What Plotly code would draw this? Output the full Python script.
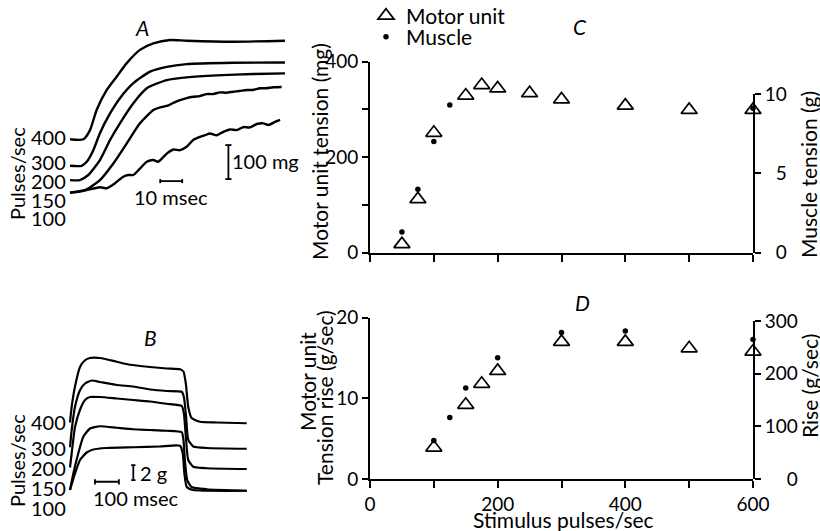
import plotly.graph_objects as go

W, H = 820, 531
FONT = "Lato, 'Open Sans', sans-serif"
FS = 21      # titles / legend
TFS = 19     # tick labels
FSP = 20     # trace labels

# ---------------- Panel C : tension vs stimulus rate ----------------
c_rate_unit = [50, 75, 100, 150, 175, 200, 250, 300, 400, 500, 600]
c_tension_unit_mg = [18, 112, 251, 329, 351, 344, 334, 321, 308, 299, 299]
c_rate_muscle = [50, 75, 100, 125, 150, 200, 300, 400, 600]
c_tension_muscle_g = [1.3, 4.0, 7.0, 9.3, 11.0, 11.35, 11.0, 10.45, 9.1]

# ---------------- Panel D : rate of tension rise ----------------
d_rate_unit = [100, 150, 175, 200, 300, 400, 500, 600]
d_rise_unit = [3.9, 9.2, 11.8, 13.4, 17.0, 17.0, 16.2, 15.8]
d_rate_muscle = [100, 125, 150, 200, 300, 400, 600]
d_rise_muscle = [73, 117, 173, 230, 278, 281, 265]

x_ticks = [0, 100, 200, 300, 400, 500, 600]
x_ticktext = ["0", "", "200", "", "400", "", "600"]
c_left_ticks = [0, 100, 200, 300, 400]
c_left_text = ["0", "", "200", "", "400"]
c_right_ticks = [0, 5, 10]
c_right_text = ["\u20070", "\u20075", "10"]
d_left_ticks = [0, 10, 20]
d_right_ticks = [0, 100, 200, 300]
d_right_text = ["\u2007\u20070", "100", "200", "300"]

# ---------------- Panel A : motor unit traces (ms, mg, offset as drawn) ----------------
A_labels = ["400", "300", "200", "150", "100"]
A_t = [
    [0, 6.1, 9.1, 12.1, 16.7, 21.2, 25.8, 31.8, 37.9, 45.5, 53, 74, 97.7],
    [0, 5.3, 7.6, 10.6, 13.6, 18.2, 22.7, 28.8, 36.4, 44, 53, 74.2, 97.7],
    [0, 4.5, 8.3, 13.6, 18.2, 22.7, 28.8, 34.9, 44, 53, 66.7, 83.3, 97.7],
    [0, 7.6, 13.6, 19.7, 25.8, 31.8, 37.9, 41.0, 44, 47, 50, 53, 56, 59, 62.1, 65, 68.2, 71, 74.2, 77, 80.3, 83, 86.4, 89, 92.4, 96.2],
    [0, 4.5, 13.6, 16.7, 20.5, 24.2, 26.5, 28.8, 31.8, 34.9, 37.9, 40.1, 44, 47, 50, 53, 56, 59.1, 61.4,
     63.6, 66.7, 69.7, 72.7, 75.8, 78.8, 81.8, 84.9, 87.9, 90.2, 93.2, 95.5],
]
A_mg = [
    [155, 155, 182, 241, 300, 339, 379, 418, 437, 447, 445, 442, 445],
    [77, 77, 89, 123, 173, 231, 276, 320, 354, 368, 376, 380, 381],
    [35, 35, 50, 94, 153, 202, 261, 305, 329, 337, 343, 347, 349],
    [-2, 8, 35, 84, 143, 202, 241, 249, 253, 262, 270, 276, 280, 282, 288, 288, 293, 292, 295, 297, 300, 300, 305, 305, 308, 309],
    [-2, 1, 14, 11, 26, 45, 50, 50, 69, 89, 94, 89, 113, 125, 123, 133, 153, 162, 167,
     172, 167, 177, 184, 182, 191, 190, 200, 202, 197, 206, 212],
]
A_bar_ms = 10
A_bar_mg = 100

# ---------------- Panel B : whole muscle traces (ms, g, offset as drawn) ----------------
B_labels = ["400", "300", "200", "150", "100"]
B_t = [
    [0, 7, 20.9, 41.7, 62.6, 83.4, 125, 195, 250, 334, 403, 459, 473, 483, 493, 507, 542, 612, 737],
    [0, 7, 20.9, 41.7, 62.6, 90.4, 125, 195, 264, 334, 403, 466, 475, 484, 493, 514, 570, 737],
    [0, 7, 20.9, 41.7, 62.6, 83.4, 125, 195, 264, 334, 403, 466, 475, 484, 493, 514, 570, 737],
    [0, 13.9, 34.6, 55.4, 83.4, 125, 195, 264, 334, 403, 466, 473, 480, 489, 507, 570, 737],
    [0, 20.9, 41.7, 69.5, 97.2, 153, 264, 375, 459, 470, 477, 487, 514, 737],
]
B_g = [
    [9.0, 11.1, 13.8, 16.4, 17.3, 17.6, 17.6, 17.1, 16.7, 16.4, 16.2, 16.1, 15.8, 14.2, 11.1, 9.6, 9.1, 9.0, 8.9],
    [5.7, 8.0, 11.1, 13.3, 14.2, 14.6, 14.4, 14.0, 13.8, 13.4, 13.2, 13.1, 12.4, 9.8, 6.7, 5.8, 5.6, 5.5],
    [3.0, 4.9, 8.4, 10.7, 12.0, 12.4, 12.4, 12.2, 12.0, 11.8, 11.5, 11.2, 10.2, 6.7, 4.0, 3.1, 2.9, 2.8],
    [0, 2.2, 4.9, 7.1, 8.2, 8.5, 8.3, 8.1, 8.0, 7.9, 7.7, 6.7, 3.6, 1.3, 0.4, 0.1, -0.1],
    [0, 2.2, 4.0, 5.0, 5.4, 5.6, 5.7, 5.8, 5.9, 4.9, 2.2, 0.4, 0, -0.1],
]
B_bar_ms = 100
B_bar_g = 2


def px(x):
    return x / W


def py(y):
    return 1 - y / H


fig = go.Figure()

tri = dict(symbol="triangle-up-open", size=14, color="black", line=dict(width=1.7, color="black"))
dot = dict(symbol="circle", size=5.5, color="black")

# Panel C
fig.add_trace(go.Scatter(x=c_rate_unit, y=c_tension_unit_mg, mode="markers", name="Motor unit",
                         marker=tri, xaxis="x", yaxis="y", cliponaxis=False, legend="legend"))
fig.add_trace(go.Scatter(x=c_rate_muscle, y=c_tension_muscle_g, mode="markers", name="Muscle",
                         marker=dot, xaxis="x", yaxis="y2", cliponaxis=False, legend="legend2"))
# Panel D
fig.add_trace(go.Scatter(x=d_rate_unit, y=d_rise_unit, mode="markers", showlegend=False,
                         marker=tri, xaxis="x2", yaxis="y3", cliponaxis=False))
fig.add_trace(go.Scatter(x=d_rate_muscle, y=d_rise_muscle, mode="markers", showlegend=False,
                         marker=dot, xaxis="x2", yaxis="y4", cliponaxis=False))

# Panel A traces
for t, v in zip(A_t, A_mg):
    fig.add_trace(go.Scatter(x=t, y=v, mode="lines", showlegend=False, hoverinfo="skip",
                             line=dict(color="black", width=2.4, shape="spline", smoothing=0.6),
                             xaxis="x3", yaxis="y5", cliponaxis=False))
# Panel B traces
for t, v in zip(B_t, B_g):
    fig.add_trace(go.Scatter(x=t, y=v, mode="lines", showlegend=False, hoverinfo="skip",
                             line=dict(color="black", width=2.2, shape="spline", smoothing=0.5),
                             xaxis="x4", yaxis="y6", cliponaxis=False))

axis_common = dict(showgrid=False, zeroline=False, showline=True, linecolor="black", linewidth=1.8,
                   ticks="outside", ticklen=6, tickwidth=1.6, tickcolor="black", automargin=False,
                   tickfont=dict(family=FONT, size=TFS, color="black"), fixedrange=True)
hidden = dict(visible=False, fixedrange=True, automargin=False, showgrid=False, zeroline=False)
leg_common = dict(xanchor="left", yanchor="middle", bgcolor="rgba(0,0,0,0)", borderwidth=0,
                  font=dict(family=FONT, size=FS, color="black"), itemwidth=30)

xdom = [px(370), px(753)]
fig.update_layout(
    width=W, height=H, autosize=False, margin=dict(l=0, r=0, t=0, b=0, pad=0, autoexpand=False),
    paper_bgcolor="white", plot_bgcolor="rgba(0,0,0,0)",
    font=dict(family=FONT, size=FS, color="black"),
    showlegend=True,
    legend=dict(leg_common, x=px(366), y=py(16)),
    legend2=dict(leg_common, x=px(366), y=py(37)),
    xaxis=dict(axis_common, domain=xdom, range=[0, 600], anchor="y", tickvals=x_ticks,
               showticklabels=False, ticklen=7),
    yaxis=dict(axis_common, domain=[py(252.7), py(61.7)], range=[0, 400], anchor="x",
               tickvals=c_left_ticks, ticktext=c_left_text),
    yaxis2=dict(axis_common, domain=[py(252.7), py(94)], range=[0, 10], anchor="x", side="right",
                tickvals=c_right_ticks, ticktext=c_right_text),
    xaxis2=dict(axis_common, domain=xdom, range=[0, 600], anchor="y3", tickvals=x_ticks,
                ticktext=x_ticktext, ticklen=7),
    yaxis3=dict(axis_common, domain=[py(479), py(317.7)], range=[0, 20], anchor="x2",
                tickvals=d_left_ticks),
    yaxis4=dict(axis_common, domain=[py(479), py(321)], range=[0, 300], anchor="x2", side="right",
                tickvals=d_right_ticks, ticktext=d_right_text),
    xaxis3=dict(hidden, domain=[0, px(295.2)], range=[-70 / 2.2, (295.2 - 70) / 2.2], anchor="y5"),
    yaxis5=dict(hidden, domain=[py(260), 1], range=[(192 - 260) * 2.941, 192 * 2.941], anchor="x3"),
    xaxis4=dict(hidden, domain=[0, px(295.2)], range=[-70 * 4.17, (295.2 - 70) * 4.17], anchor="y6"),
    yaxis6=dict(hidden, domain=[0, py(260)], range=[(490 - 531) / 7.5, (490 - 260) / 7.5], anchor="x4"),
)

# scale bars (data coordinates of the trace panels)
def hbar(xref, yref, x0, length, y, cap):
    fig.add_shape(type="line", xref=xref, yref=yref, x0=x0, x1=x0 + length, y0=y, y1=y,
                  line=dict(color="black", width=1.8))
    for xx in (x0, x0 + length):
        fig.add_shape(type="line", xref=xref, yref=yref, x0=xx, x1=xx, y0=y - cap, y1=y + cap,
                      line=dict(color="black", width=1.8))


def vbar(xref, yref, x, y0, length, cap):
    fig.add_shape(type="line", xref=xref, yref=yref, x0=x, x1=x, y0=y0, y1=y0 + length,
                  line=dict(color="black", width=1.8))
    for yy in (y0, y0 + length):
        fig.add_shape(type="line", xref=xref, yref=yref, x0=x - cap, x1=x + cap, y0=yy, y1=yy,
                      line=dict(color="black", width=1.8))


hbar("x3", "y5", 41.0, A_bar_ms, 32, 6)
vbar("x3", "y5", 72.0, 38, A_bar_mg, 1.4)
hbar("x4", "y6", 104, B_bar_ms, 1.1, 0.35)
vbar("x4", "y6", 264, 1.33, B_bar_g, 9)


def ann(text, x, y, size=FS, angle=0, xanchor="center", italic=False):
    fig.add_annotation(text=f"<i>{text}</i>" if italic else text, x=px(x), y=py(y),
                       xref="paper", yref="paper", showarrow=False, textangle=angle,
                       xanchor=xanchor, yanchor="middle", borderpad=0,
                       font=dict(family=FONT, size=size, color="black"))


# panel letters
ann("A", 142, 28, italic=True)
ann("B", 150, 337, italic=True)
ann("C", 580, 27, italic=True)
ann("D", 582, 302, italic=True)

# pulse-rate labels for traces
for lab, yy in zip(A_labels, [137, 162, 181, 199.5, 218.5]):
    ann(lab, 67, yy, size=FSP, xanchor="right")
for lab, yy in zip(B_labels, [422, 447.5, 468, 488, 507.5]):
    ann(lab, 67, yy, size=FSP, xanchor="right")
ann("Pulses/sec", 17, 174, size=FSP, angle=-90)
ann("Pulses/sec", 17, 461, size=FSP, angle=-90)
ann(f"{A_bar_mg} mg", 231, 161, size=FSP, xanchor="left")
ann(f"{A_bar_ms} msec", 171, 197, size=FSP)
ann(f"{B_bar_g} g", 139, 473, size=FSP, xanchor="left")
ann(f"{B_bar_ms} msec", 136, 498, size=FSP)

# axis titles
ann("Motor unit tension (mg)", 319, 152, angle=-90)
ann("Muscle tension (g)", 808, 175, angle=-90)
ann("Motor unit", 307, 382, angle=-90)
ann("Tension rise (g/sec)", 324, 398, angle=-90)
ann("Rise (g/sec)", 809, 386, angle=-90)
ann("Stimulus pulses/sec", 563, 519)

# the page body gets no default margin so the figure sits at the window origin
fig.write_html("out.html", config={"displayModeBar": False},
               post_script="document.body.style.margin='0px';document.body.style.padding='0px';")
